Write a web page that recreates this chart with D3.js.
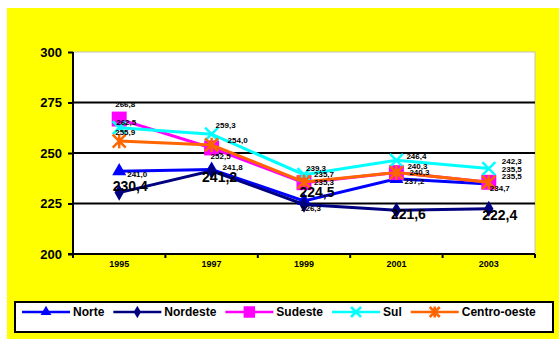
<!DOCTYPE html>
<html>
<head>
<meta charset="utf-8">
<script src="https://cdn.jsdelivr.net/npm/d3@7"></script>
<style>
  body { margin: 0; background: white; }
  text { font-family: Arial, "Liberation Sans", sans-serif; }
</style>
</head>
<body>
<script>
// data
let years = ["1995", "1997", "1999", "2001", "2003"];
let seriesNames = ["Norte", "Nordeste", "Sudeste", "Sul", "Centro-oeste"];
let norte = [241.0, 241.8, 226.3, 237.2, 234.7];
let nordeste = [230.4, 241.2, 224.5, 221.6, 222.4];
let sudeste = [266.8, 252.5, 235.3, 240.3, 235.5];
let sul = [262.5, 259.3, 239.3, 246.4, 242.3];
let centroOeste = [255.9, 254.0, 235.7, 240.3, 235.5];
let yTicks = [200, 225, 250, 275, 300];

let colours = ["#0000ff", "#000080", "#ff00ff", "#00ffff", "#ff6600"];
let allValues = [norte, nordeste, sudeste, sul, centroOeste];

// where each data label sits relative to its marker [dx, dy], like excel placed them
let labelOff = [
  [[8, 3], [11, -2], [-3, 7], [8, 2], [1, 4]],
  [[11, -7], [8, 6], [13, -13], [12, 4], [11, 6]],
  [[-4, -15], [-1, 8], [10, -1], [11, -6], [13, -6]],
  [[-3, -6], [4, -9], [2, -6], [10, -4], [13, -7]],
  [[-4, -9], [16, -5], [10, -8], [13, 0], [13, -13]]
];

let w = 559, h = 344;
let svg = d3.select("body").append("svg").attr("width", w).attr("height", h);

// yellow chart area
svg.append("rect").attr("x", 7).attr("y", 8).attr("width", 552).attr("height", 331).attr("fill", "#ffff00");

let pLeft = 73, pRight = 535, pTop = 52, pBottom = 254;
svg.append("rect").attr("x", pLeft).attr("y", pTop).attr("width", pRight - pLeft).attr("height", pBottom - pTop)
  .attr("fill", "white").attr("stroke", "#c0c0c0").attr("stroke-width", 1);

let x = d3.scalePoint().domain(years).range([pLeft, pRight]).padding(0.5);
let xb = d3.scaleBand().domain(years).range([pLeft, pRight]);
let y = d3.scaleLinear().domain([200, 300]).range([pBottom, pTop]);

// gridlines
svg.append("g").selectAll("line").data(yTicks.filter(d => d > 200 && d < 300)).join("line")
  .attr("x1", pLeft).attr("x2", pRight).attr("y1", d => y(d)).attr("y2", d => y(d))
  .attr("stroke", "black").attr("stroke-width", 2);

// y axis
let yAxis = svg.append("g").attr("transform", `translate(${pLeft},0)`)
  .call(d3.axisLeft(y).tickValues(yTicks).tickSize(5).tickPadding(6));
yAxis.select(".domain").attr("stroke-width", 2).attr("d", `M0,${pTop}V${pBottom}`);
yAxis.selectAll(".tick line").attr("stroke-width", 2);
yAxis.selectAll("text").attr("font-size", 13).attr("font-weight", "bold").attr("fill", "black")
  .attr("font-family", "Arial, 'Liberation Sans', sans-serif");

// x axis
let xAxis = svg.append("g").attr("transform", `translate(0,${pBottom})`)
  .call(d3.axisBottom(xb).tickSize(0).tickPadding(0));
xAxis.select(".domain").attr("stroke-width", 2).attr("d", `M${pLeft - 5},0H${pRight}`);
xAxis.selectAll("text").attr("font-size", 9).attr("font-weight", "bold").attr("dy", "1.45em")
  .attr("font-family", "Arial, 'Liberation Sans', sans-serif");
xAxis.selectAll("line.sep").data(years.concat(["end"])).join("line").attr("class", "sep")
  .attr("x1", (d, i) => pLeft + i * xb.step()).attr("x2", (d, i) => pLeft + i * xb.step())
  .attr("y1", 0).attr("y2", 4).attr("stroke", "black").attr("stroke-width", 2);

// marker shapes
function marker(g, i, size) {
  let c = colours[i];
  if (i === 0) {
    g.append("path").attr("d", d3.symbol(d3.symbolTriangle, size * size * 0.5)()).attr("fill", c);
  } else if (i === 1) {
    g.append("path").attr("d", d3.symbol(d3.symbolDiamond, size * size * 0.45)()).attr("fill", c);
  } else if (i === 2) {
    let s = size * 1.15;
    g.append("rect").attr("x", -s / 2).attr("y", -s / 2).attr("width", s).attr("height", s).attr("fill", c);
  } else if (i === 3) {
    let s = size * 0.5;
    g.append("path").attr("d", `M${-s},${-s}L${s},${s}M${-s},${s}L${s},${-s}`)
      .attr("stroke", c).attr("stroke-width", 2.5);
  } else {
    let s = size * 0.5;
    g.append("path").attr("d", `M${-s},${-s}L${s},${s}M${-s},${s}L${s},${-s}M0,${-s * 1.1}V${s * 1.1}`)
      .attr("stroke", c).attr("stroke-width", 2.5);
  }
}

let line = d3.line().x((d, i) => x(years[i])).y(d => y(d));
let fmt = v => d3.format(".1f")(v).replace(".", ",");

allValues.forEach((vals, s) => {
  svg.append("path").datum(vals).attr("d", line).attr("fill", "none")
    .attr("stroke", colours[s]).attr("stroke-width", 3);
  vals.forEach((v, i) => {
    let g = svg.append("g").attr("transform", `translate(${x(years[i])},${y(v)})`);
    marker(g, s, 13);
  });
});

// data labels
allValues.forEach((vals, s) => {
  vals.forEach((v, i) => {
    let px = x(years[i]), py = y(v);
    let off = labelOff[s][i];
    if (s === 1) {
      svg.append("text").attr("x", px + off[0]).attr("y", py + off[1]).attr("dy", "0.36em")
        .attr("text-anchor", "middle").attr("font-size", 14).attr("font-weight", "bold").text(fmt(v));
    } else {
      svg.append("text").attr("x", px + off[0]).attr("y", py + off[1]).attr("dy", "0.36em")
        .attr("font-size", 8).attr("font-weight", "bold").text(fmt(v));
    }
  });
});

// legend
svg.append("rect").attr("x", 15).attr("y", 302).attr("width", 538).attr("height", 30)
  .attr("fill", "white").attr("stroke", "black").attr("stroke-width", 2);
let lx = 22;
seriesNames.forEach((name, s) => {
  let g = svg.append("g").attr("transform", `translate(${lx},312)`);
  g.append("line").attr("x1", 0).attr("x2", 48).attr("stroke", colours[s]).attr("stroke-width", 2.5);
  let mg = g.append("g").attr("transform", "translate(24,0)");
  marker(mg, s, 10);
  let t = g.append("text").attr("x", 51).attr("y", 4).attr("font-size", 12).attr("font-weight", "bold").text(name);
  lx += 51 + t.node().getComputedTextLength() + 9;
});
</script>
</body>
</html>
